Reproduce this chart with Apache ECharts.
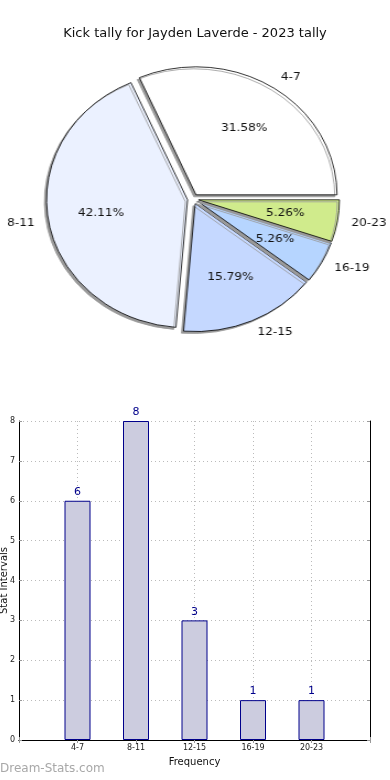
<!DOCTYPE html>
<html><head><meta charset="utf-8">
<script src="https://cdn.jsdelivr.net/npm/echarts@6/dist/echarts.min.js"></script>
<style>
html,body{margin:0;padding:0;background:#fff}
#wrap{position:relative;width:390px;height:780px;overflow:hidden}
#c{position:absolute;left:0;top:0;width:390px;height:780px}
#p{position:absolute;left:0;top:0;width:390px;height:390px;transform:scaleX(1.1016);transform-origin:193px 0}
</style>
</head><body><div id="wrap"><div id="c"></div><div id="p"></div></div>
<script>
var categories = ['4-7', '8-11', '12-15', '16-19', '20-23'];
var values = [6, 8, 3, 1, 1];
var sliceColors = ['#ffffff', '#ebf1ff', '#c5d8ff', '#b6d5ff', '#d0eb8c'];
var yTicks = [0, 1, 2, 3, 4, 5, 6, 7, 8];

var R = 128;
var CX = 193, CY = 199;
var pieData = categories.map(function (c, i) {
  return { name: c, value: values[i], selected: true, itemStyle: { color: sliceColors[i] } };
});
var pieLabelData = categories.map(function (c, i) {
  return { name: c, value: values[i], selected: true };
});
var xCats = [''].concat(categories).concat(['']);
var barData = [null].concat(values).concat([null]);
var FONT = 'DejaVu Sans';

var chart = echarts.init(document.getElementById('c'), null, { renderer: 'canvas' });
chart.setOption({
  animation: false,
  backgroundColor: '#fff',
  title: {
    text: 'Kick tally for Jayden Laverde - 2023 tally',
    left: 'center', top: 22,
    textStyle: { fontFamily: FONT, fontSize: 13, fontWeight: 'normal', color: '#111' }
  },
  graphic: [{
    type: 'text', left: 0, top: 763,
    style: { text: 'Dream-Stats.com', fill: '#a8a8a8', font: '12px "DejaVu Sans"' }
  }],
  grid: { left: 19, right: 20, top: 421, bottom: 40, containLabel: false, outerBoundsMode: 'none' },
  xAxis: [{
    type: 'category', data: xCats, boundaryGap: false, position: 'bottom',
    name: 'Frequency', nameLocation: 'middle', nameGap: 17, nameMoveOverlap: false,
    nameTextStyle: { fontFamily: FONT, fontSize: 10, color: '#111' },
    axisLine: { lineStyle: { color: '#000', width: 1 } },
    axisTick: { inside: true, length: 3, interval: 0, lineStyle: { color: '#999' } },
    axisLabel: { interval: 0, fontFamily: FONT, fontSize: 8, color: '#222', margin: 4 },
    splitLine: { show: true, interval: 0, lineStyle: { color: '#bbb', type: [1, 3], width: 1 } }
  }, {
    type: 'category', data: xCats, boundaryGap: false, position: 'top',
    axisLine: { lineStyle: { color: '#000', width: 1 } },
    axisTick: { inside: true, length: 3, interval: 0, lineStyle: { color: '#999' } },
    axisLabel: { show: false }, splitLine: { show: false }
  }],
  yAxis: [{
    type: 'value', min: 0, max: 8, interval: 1, position: 'left',
    name: 'Stat Intervals', nameLocation: 'middle', nameGap: 10, nameRotate: 90, nameMoveOverlap: false,
    nameTextStyle: { fontFamily: FONT, fontSize: 10, color: '#111' },
    axisLine: { show: true, lineStyle: { color: '#000', width: 1 } },
    axisTick: { show: true, inside: true, length: 3, lineStyle: { color: '#999' } },
    axisLabel: { fontFamily: FONT, fontSize: 8, color: '#222', margin: 4,
      formatter: function (v) { return yTicks.indexOf(v) >= 0 ? String(v) : ''; } },
    splitLine: { show: true, lineStyle: { color: '#bbb', type: [1, 3], width: 1 } }
  }, {
    type: 'value', min: 0, max: 8, interval: 1, position: 'right',
    axisLine: { show: true, lineStyle: { color: '#000', width: 1 } },
    axisTick: { show: true, inside: true, length: 3, lineStyle: { color: '#999' } },
    axisLabel: { show: false }, splitLine: { show: false }
  }],
  series: [{
    type: 'bar', xAxisIndex: 0, yAxisIndex: 0, data: barData, barWidth: 26,
    itemStyle: { color: '#ccccdf', borderColor: '#00008b', borderWidth: 1 },
    label: { show: true, position: 'top', distance: 3, fontFamily: FONT, fontSize: 11, color: '#00008b' },
    emphasis: { disabled: true }
  }]
});

var pie = echarts.init(document.getElementById('p'), null, { renderer: 'canvas' });
pie.setOption({
  animation: false,
  backgroundColor: 'transparent',
  series: [{
    type: 'pie', center: [CX, CY], radius: [0, R],
    startAngle: 0, clockwise: false,
    selectedMode: 'multiple', selectedOffset: 5,
    avoidLabelOverlap: false,
    z: 3,
    itemStyle: { borderColor: '#000', borderWidth: 0.8, shadowColor: '#999', shadowBlur: 0, shadowOffsetX: -2, shadowOffsetY: 2 },
    label: { show: true, position: 'outside', formatter: '{b}', distanceToLabelLine: 0,
      fontFamily: FONT, fontSize: 11, color: '#111' },
    labelLine: { show: false, length: 0.1 * R, length2: 0 },
    emphasis: { disabled: true },
    data: pieData
  }, {
    type: 'pie', center: [CX, CY], radius: [0.2 * R, R],
    startAngle: 0, clockwise: false,
    selectedMode: 'multiple', selectedOffset: 5,
    avoidLabelOverlap: false, silent: true, z: 4,
    itemStyle: { color: 'rgba(0,0,0,0)', borderWidth: 0 },
    label: { show: true, position: 'inside', formatter: '{d}%', fontFamily: FONT, fontSize: 11, color: '#111' },
    labelLine: { show: false },
    emphasis: { disabled: true },
    data: pieLabelData
  }]
});
</script></body></html>
